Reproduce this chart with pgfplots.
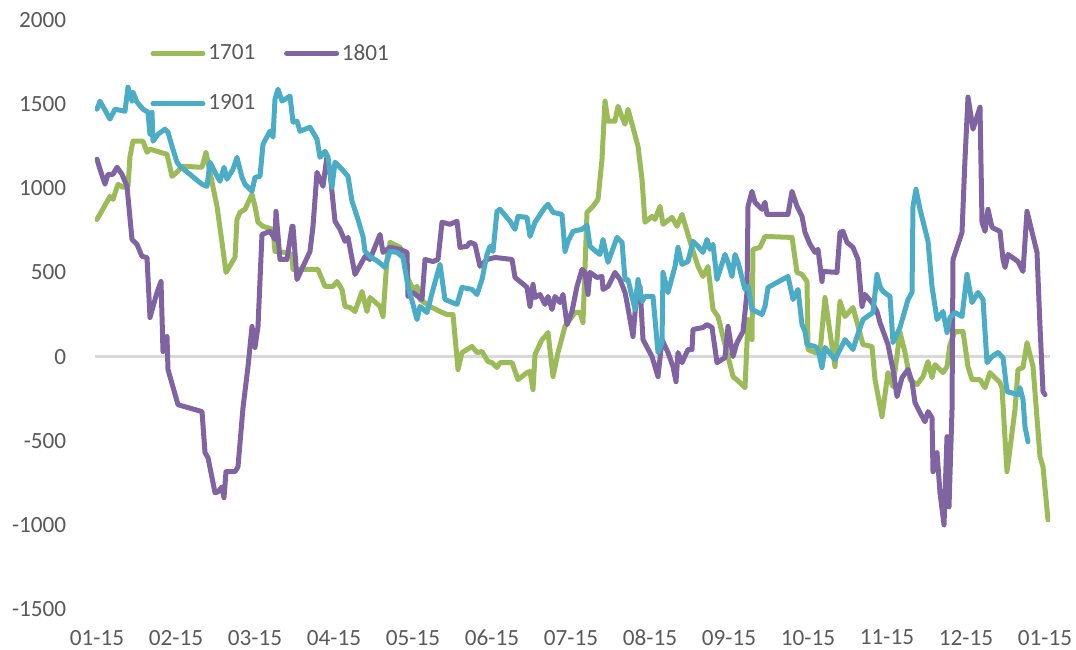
\documentclass[border=0pt]{standalone}
\usepackage{fontspec}
\setmainfont{Carlito}
\usepackage{pgfplots}
\pgfplotsset{compat=1.18}
\definecolor{cgreen}{HTML}{9BBB59}
\definecolor{cpurple}{HTML}{8064A2}
\definecolor{cblue}{HTML}{4BACC6}
\definecolor{tgray}{HTML}{595959}
\definecolor{zgray}{HTML}{D9D9D9}
\begin{document}
\begin{tikzpicture}
\useasboundingbox (-47.5pt,-20pt) rectangle (490.5pt,304.5pt);
\begin{axis}[
  scale only axis,
  width=477.5pt, height=294.5pt,
  xmin=95, xmax=1050,
  ymin=-1500, ymax=2000,
  axis line style={draw=none},
  tick style={draw=none},
  xtick={97,176,255,334,413,492,571,650,729,808,887,966,1045},
  xticklabels={01-15,02-15,03-15,04-15,05-15,06-15,07-15,08-15,09-15,10-15,11-15,12-15,01-15},
  ytick={-1500,-1000,-500,0,500,1000,1500,2000},
  yticklabels={-1500,-1000,-500,0,500,1000,1500,2000},
  xticklabel style={anchor=center, inner sep=0pt, yshift=-14.3pt, font=\fontsize{11.6}{14}\selectfont, text=tgray},
  yticklabel style={anchor=east, inner sep=0pt, xshift=-14.2pt, font=\fontsize{11.6}{14}\selectfont, text=tgray},
  legend columns=2,
  legend image code/.code={\draw[#1, line cap=round] (1.25pt,0pt) -- (26.25pt,0pt);},
  legend style={draw=none, fill=none, at={(0.0581,0.9590)}, anchor=north west,
    inner sep=0pt, outer sep=0pt, row sep=15.9pt,
    font=\fontsize{11.6}{14}\selectfont, text=tgray,
    nodes={inner sep=0pt},
    /tikz/every odd column/.append style={column sep=1.4pt},
    /tikz/every even column/.append style={column sep=14.4pt}},
  legend cell align=left,
  every axis plot/.append style={line width=2.5pt, line join=round, line cap=round},
]
\addplot[zgray, line width=1.2pt, line cap=butt, forget plot] coordinates {(95,0) (1050,0)};

% 1701
\addplot[cgreen] coordinates {
(97,815) (110,952) (113,934) (118,1024) (123,1006) (128,1012) (130,1190) (133,1280) (143,1280) (147,1214)
(150,1232) (167,1202) (172,1071) (178,1101) (182,1131) (202,1125) (206,1214) (210,1095) (217,893) (222,679)
(226,500) (235,589) (237,815) (240,857) (245,875) (252,964) (255,893) (258,798) (263,774) (273,756)
(275,625) (285,619) (292,607) (293,518) (318,518) (325,417) (333,417) (337,446) (342,399) (345,298)
(350,292) (355,268) (362,387) (367,268) (370,351) (380,298) (383,238) (387,577) (390,679) (400,649)
(403,619) (407,476) (413,399) (417,417) (420,339) (430,298) (440,268) (447,250) (453,250) (458,-77)
(462,24) (472,60) (477,24) (482,30) (488,-30) (492,-36) (497,-65) (500,-36) (512,-36) (518,-137)
(527,-95) (530,-89) (533,-196) (535,12) (542,101) (545,119) (548,143) (553,-119) (558,24) (565,179)
(575,262) (580,262) (583,202) (587,857) (593,893) (598,934) (602,1173) (605,1518) (608,1399) (615,1399)
(618,1488) (622,1423) (625,1381) (628,1470) (638,1250) (642,1054) (645,798) (652,833) (655,815) (660,893)
(663,786) (672,827) (677,774) (682,845) (690,685) (698,536) (703,476) (708,536) (713,280) (718,238)
(727,24) (733,-119) (740,-155) (745,-185) (748,220) (752,101) (753,637) (760,649) (765,714) (792,708)
(797,500) (802,488) (807,446) (808,42) (815,24) (820,24) (825,351) (830,143) (835,-60) (838,179)
(840,327) (845,238) (853,292) (863,71) (872,60) (875,-137) (882,-357) (888,-95) (893,-179) (900,143)
(905,24) (910,-137) (917,-167) (923,-119) (928,-30) (932,-125) (935,-48) (943,-95) (947,-60) (950,71)
(955,149) (963,149) (968,-60) (972,-137) (980,-137) (985,-185) (990,-95) (1000,-155) (1002,-185) (1007,-684)
(1015,-315) (1018,-77) (1023,-65) (1027,83) (1033,-60) (1040,-595) (1043,-655) (1048,-970)
};
\addlegendentry{1701}

% 1801
\addplot[cpurple] coordinates {
(97,1173) (100,1113) (105,1024) (108,1083) (113,1083) (117,1125) (122,1083) (127,1012) (132,696) (137,667)
(142,595) (147,589) (150,232) (157,381) (161,446) (163,30) (167,119) (168,-77) (178,-286) (202,-327)
(205,-571) (208,-601) (215,-809) (218,-804) (222,-774) (224,-839) (226,-684) (235,-684) (238,-655) (243,-304)
(248,-60) (252,179) (255,54) (258,179) (262,726) (270,744) (275,696) (276,863) (280,577) (287,577)
(292,774) (293,774) (297,458) (310,625) (313,774) (317,1095) (323,1012) (327,1190) (330,1095) (335,804)
(340,756) (345,685) (348,708) (355,488) (365,595) (370,577) (380,726) (383,619) (390,649) (400,637)
(407,619) (408,357) (413,381) (422,339) (425,577) (433,565) (438,577) (442,798) (450,786) (457,804)
(460,649) (467,655) (470,679) (475,667) (480,536) (487,577) (495,589) (512,577) (515,470) (520,446)
(527,411) (530,298) (533,429) (535,351) (540,369) (545,310) (548,357) (552,280) (555,357) (560,321)
(563,369) (567,190) (572,268) (577,417) (582,518) (585,500) (588,369) (590,500) (597,470) (602,476)
(603,399) (608,417) (615,500) (620,458) (625,381) (627,321) (633,119) (637,399) (640,417) (643,101)
(652,0) (655,-60) (658,-119) (662,101) (668,24) (673,-60) (676,-149) (678,24) (682,-36) (688,42)
(692,42) (693,161) (703,173) (707,190) (712,173) (717,-36) (725,-6) (728,179) (733,0) (737,83)
(743,149) (747,381) (748,893) (752,982) (755,917) (762,875) (765,917) (767,845) (788,845) (792,982)
(797,893) (802,833) (805,738) (810,667) (815,619) (818,637) (822,446) (823,506) (837,500) (840,738)
(843,744) (847,679) (853,649) (858,577) (862,298) (865,369) (872,321) (877,268) (880,202) (888,71)
(893,-77) (897,-238) (902,-125) (908,-77) (912,-149) (915,-274) (920,-333) (925,-387) (928,-327) (932,-363)
(933,-684) (937,-571) (940,-809) (944,-1000) (947,-476) (949,-893) (952,-315) (953,577) (962,738) (965,1173)
(968,1542) (973,1351) (980,1482) (982,798) (985,744) (988,875) (992,768) (1000,744) (1003,577) (1005,530)
(1008,607) (1018,565) (1023,506) (1027,863) (1037,619) (1040,179) (1043,-208) (1045,-226)
};
\addlegendentry{1801}

% 1901
\addplot[cblue] coordinates {
(97,1470) (100,1518) (110,1411) (115,1470) (125,1458) (128,1601) (132,1518) (133,1571) (137,1512) (143,1470)
(148,1452) (150,1321) (152,1452) (153,1280) (158,1321) (165,1351) (168,1333) (172,1250) (177,1155) (180,1131)
(202,1024) (207,1012) (210,1155) (215,1095) (220,1042) (224,1125) (227,1054) (233,1113) (237,1184) (242,1065)
(245,1024) (252,982) (255,1065) (260,1071) (263,1262) (270,1339) (273,1304) (275,1530) (278,1589) (282,1518)
(290,1548) (293,1393) (297,1399) (300,1339) (310,1363) (317,1292) (320,1184) (325,1220) (328,1184) (332,1006)
(335,1155) (342,1113) (348,1071) (352,923) (358,815) (363,714) (365,625) (370,595) (378,565) (385,530)
(390,625) (397,619) (403,589) (408,417) (413,310) (417,220) (420,298) (427,262) (433,399) (440,548)
(445,339) (457,310) (462,411) (472,399) (477,369) (482,458) (487,607) (490,655) (493,625) (497,863)
(500,875) (510,804) (515,756) (518,833) (527,827) (530,714) (535,798) (545,887) (548,905) (553,857)
(562,845) (565,625) (568,685) (573,744) (582,756) (587,780) (590,655) (597,619) (600,607) (603,696)
(608,560) (617,708) (622,679) (625,458) (628,458) (635,280) (638,458) (642,327) (645,357) (653,357)
(658,24) (662,83) (663,500) (668,381) (675,536) (678,649) (682,548) (688,565) (693,685) (698,655)
(703,619) (707,696) (710,637) (713,667) (717,458) (725,607) (728,560) (732,476) (735,607) (738,560)
(745,399) (748,417) (752,280) (762,250) (765,298) (768,411) (788,476) (793,339) (798,399) (802,190)
(805,149) (807,71) (815,60) (818,42) (822,-65) (825,54) (835,-18) (845,101) (853,42) (857,119)
(863,220) (873,262) (877,488) (880,417) (883,387) (890,357) (893,83) (900,173) (908,339) (912,381)
(913,893) (916,994) (920,875) (928,685) (932,417) (937,220) (943,268) (947,143) (950,232) (955,262)
(962,238) (967,488) (972,321) (978,381) (983,339) (987,-36) (992,0) (998,24) (1003,-6) (1007,-208)
(1018,-226) (1020,-185) (1023,-256) (1025,-417) (1028,-506)
};
\addlegendentry{1901}
\end{axis}
\end{tikzpicture}
\end{document}
